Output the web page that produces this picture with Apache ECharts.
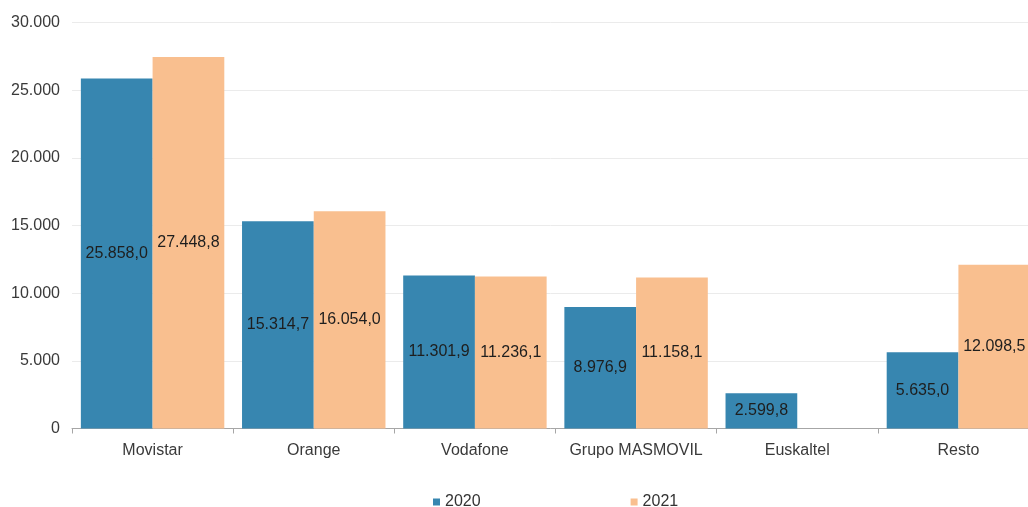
<!DOCTYPE html>
<html>
<head>
<meta charset="utf-8">
<script src="https://cdn.jsdelivr.net/npm/echarts@6/dist/echarts.min.js"></script>
<style>html,body{margin:0;padding:0;background:#fff;}#c{width:1028px;height:507px;}</style>
</head>
<body>
<div id="c"></div>
<script>
const categories = ['Movistar', 'Orange', 'Vodafone', 'Grupo MASMOVIL', 'Euskaltel', 'Resto'];
const values2020 = [25858.0, 15314.7, 11301.9, 8976.9, 2599.8, 5635.0];
const values2021 = [27448.8, 16054.0, 11236.1, 11158.1, null, 12098.5];
const seriesNames = ['2020', '2021'];

function fmtThousands(intStr) {
  return intStr.replace(/\B(?=(\d{3})+(?!\d))/g, '.');
}
function fmtLabel(v) {
  const s = v.toFixed(1).split('.');
  return fmtThousands(s[0]) + ',' + s[1];
}

const chart = echarts.init(document.getElementById('c'));
const labelCfg = {
  show: true,
  position: 'inside',
  color: '#1e1e1e',
  fontSize: 16,
  fontFamily: 'Liberation Sans, Arial, sans-serif',
  formatter: p => fmtLabel(p.value)
};
chart.setOption({
  animation: false,
  textStyle: { fontFamily: 'Liberation Sans, Arial, sans-serif' },
  grid: { left: 72, width: 967, top: 22.5, bottom: 78.5, containLabel: false, outerBoundsMode: 'none' },
  legend: {
    left: 428, top: 489, itemGap: 150, icon: 'rect', itemWidth: 7, itemHeight: 7,
    textStyle: { fontSize: 16, color: '#333', padding: [2, 0, 0, 0] },
    data: seriesNames
  },
  xAxis: {
    type: 'category',
    data: categories,
    axisLine: { lineStyle: { color: '#a6a6a6', width: 1 } },
    axisTick: { show: true, interval: 0, length: 5, lineStyle: { color: '#a6a6a6' } },
    axisLabel: { interval: 0, fontSize: 16, color: '#3a3a3a', margin: 14 }
  },
  yAxis: {
    type: 'value',
    min: 0, max: 30000, interval: 5000,
    axisLine: { show: false },
    axisTick: { show: false },
    splitLine: { lineStyle: { color: '#ebebeb' } },
    axisLabel: { fontSize: 16, color: '#3a3a3a', margin: 12, formatter: v => fmtThousands(String(v)) }
  },
  series: [
    { name: seriesNames[0], type: 'bar', data: values2020, barGap: '0%', barCategoryGap: '11%',
      itemStyle: { color: '#3786b0' }, label: labelCfg },
    { name: seriesNames[1], type: 'bar', data: values2021, barGap: '0%', barCategoryGap: '11%',
      itemStyle: { color: '#f9bf8f' }, label: labelCfg }
  ]
});
</script>
</body>
</html>
